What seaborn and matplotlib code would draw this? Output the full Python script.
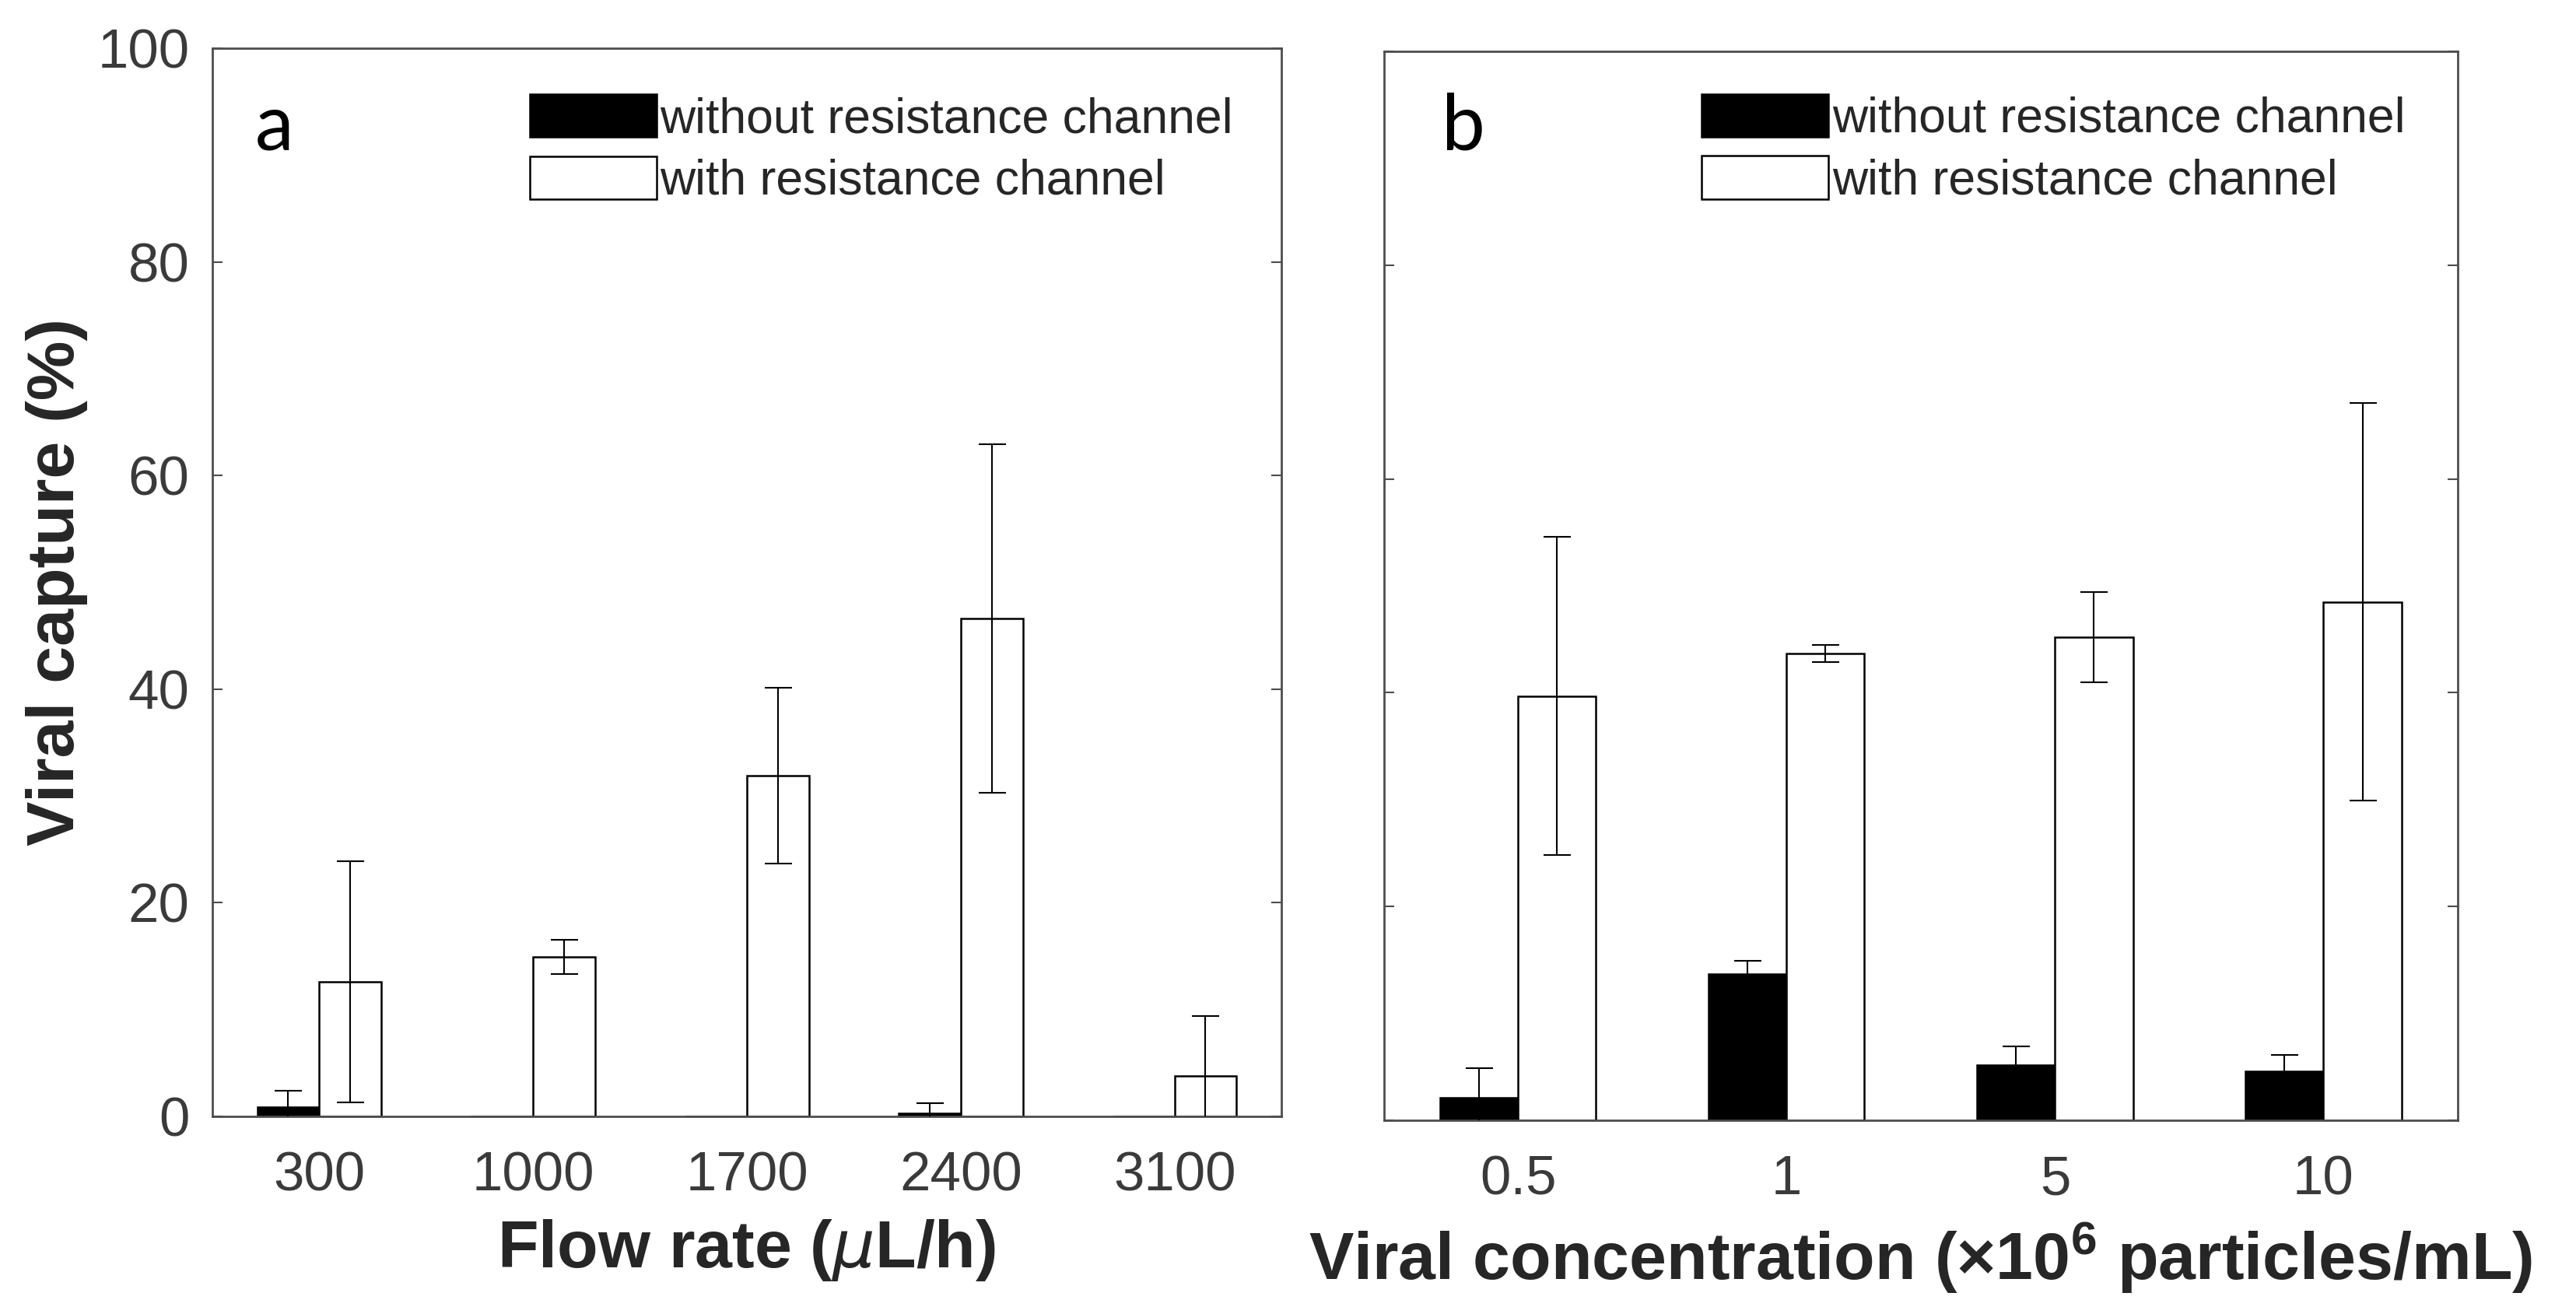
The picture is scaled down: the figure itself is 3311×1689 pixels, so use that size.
import numpy as np
import pandas as pd
import matplotlib
matplotlib.use("Agg")
import matplotlib.pyplot as plt
from matplotlib.patches import Patch
import seaborn as sns

# ---------------- data ----------------
flow_rates = ["300", "1000", "1700", "2400", "3100"]
flow_without = [0.9, 0.0, 0.0, 0.3, 0.0]
flow_without_err = [1.5, 0.0, 0.0, 0.9, 0.0]
flow_with = [12.6, 14.9, 31.9, 46.6, 3.8]
flow_with_err = [11.3, 1.6, 8.2, 16.3, 5.6]

concentrations = ["0.5", "1", "5", "10"]
conc_without = [2.1, 13.7, 5.2, 4.6]
conc_without_err = [2.8, 1.2, 1.7, 1.5]
conc_with = [39.7, 43.7, 45.2, 48.5]
conc_with_err = [14.9, 0.8, 4.2, 18.6]

series_labels = ["without resistance channel", "with resistance channel"]
series_colors = ["black", "white"]
y_ticks = [0, 20, 40, 60, 80, 100]

# ---------------- style ----------------
sns.set_style("white")
plt.rcParams["font.family"] = ["Liberation Sans", "DejaVu Sans"]
plt.rcParams["mathtext.default"] = "regular"

SPINE = "#4d4d4d"
TICKC = "#3a3a3a"
LABELC = "#262626"

fig = plt.figure(figsize=(33.12, 16.89), dpi=100)
fig.patch.set_facecolor("white")
ax_a = fig.add_axes([0.0824, 0.1504, 0.4149, 0.8129])
ax_b = fig.add_axes([0.5371, 0.1474, 0.4167, 0.8135])

palette = dict(zip(series_labels, series_colors))


def make_df(cats, without, with_):
    return pd.DataFrame({
        "cat": list(cats) * 2,
        "value": list(without) + list(with_),
        "series": [series_labels[0]] * len(cats) + [series_labels[1]] * len(cats),
    })


def draw(ax, cats, without, without_err, with_, with_err, letter, show_ylabels,
         letter_xy, legend_xy):
    df = make_df(cats, without, with_)
    sns.barplot(data=df, x="cat", y="value", hue="series", order=cats,
                hue_order=series_labels, palette=palette, saturation=1,
                edgecolor="black", linewidth=1.8, width=0.58, errorbar=None,
                ax=ax)
    for cont, errs in zip(ax.containers, [without_err, with_err]):
        for bar, e in zip(cont, errs):
            if e > 0:
                x = bar.get_x() + bar.get_width() / 2
                y = bar.get_height()
                ax.errorbar(x, y, yerr=e, fmt="none", ecolor="black",
                            elinewidth=1.5, capsize=12.6, capthick=1.5,
                            zorder=4)
    ax.set_ylim(0, 100)
    ax.set_xlim(-0.5, len(cats) - 0.5)
    ax.set_yticks(y_ticks)
    ax.tick_params(axis="y", direction="in", length=9.5, width=1.5,
                   left=True, right=True, color=SPINE, labelsize=51,
                   labelcolor=TICKC, pad=21, labelleft=show_ylabels)
    ax.tick_params(axis="x", length=0, labelsize=51, labelcolor=TICKC, pad=32)
    for s in ax.spines.values():
        s.set_visible(True)
        s.set_color(SPINE)
        s.set_linewidth(2)
    leg = ax.get_legend()
    if leg is not None:
        leg.remove()
    handles = [Patch(facecolor=c, edgecolor="black", linewidth=1.8)
               for c in series_colors]
    ax.legend(handles, series_labels, loc="upper left",
              bbox_to_anchor=legend_xy, frameon=False, fontsize=45,
              handlelength=2.6, handleheight=0.98, handletextpad=0.08,
              labelspacing=0.28, borderpad=0, borderaxespad=0,
              labelcolor=LABELC)
    ax.text(letter_xy[0], letter_xy[1], letter, transform=ax.transAxes,
            fontsize=72, family=["Lato", "DejaVu Sans"], va="baseline",
            ha="left", color="black")


draw(ax_a, flow_rates, flow_without, flow_without_err, flow_with,
     flow_with_err, "a", True, (0.04, 0.905), (0.297, 0.957))
draw(ax_b, concentrations, conc_without, conc_without_err, conc_with,
     conc_with_err, "b", False, (0.054, 0.9076), (0.296, 0.960))

ax_a.set_xlabel("Flow rate ($\\mathit{\\mu}$L/h)", fontsize=62,
                fontweight="bold", color=LABELC, labelpad=14)
ax_a.set_ylabel("Viral capture (%)", fontsize=62, fontweight="bold",
                color=LABELC, labelpad=9)
ax_b.set_xlabel("Viral concentration (\u00d710$^{6}$ particles/mL)",
                fontsize=62, fontweight="bold", color=LABELC, labelpad=14)
ax_b.set_ylabel("")

fig.savefig("out.png", dpi=100, facecolor="white")
